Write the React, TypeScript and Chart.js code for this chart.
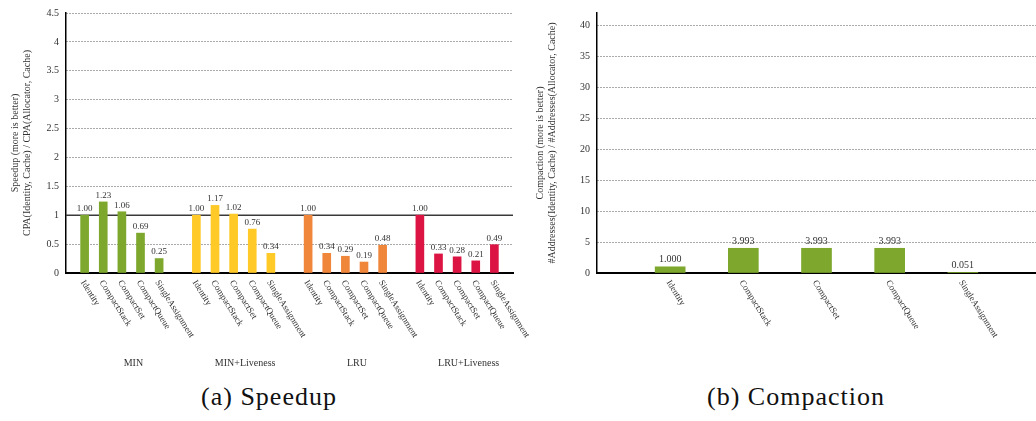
import React, { useEffect, useRef } from 'react';
import { Chart, registerables } from 'chart.js';

Chart.register(...registerables);

// ---------- data ----------
const allocators = ['Identity', 'CompactStack', 'CompactSet', 'CompactQueue', 'SingleAssignment'];
const policies = ['MIN', 'MIN+Liveness', 'LRU', 'LRU+Liveness'];
const minSpeedup = [1.0, 1.23, 1.06, 0.69, 0.25];
const minLivenessSpeedup = [1.0, 1.17, 1.02, 0.76, 0.34];
const lruSpeedup = [1.0, 0.34, 0.29, 0.19, 0.48];
const lruLivenessSpeedup = [1.0, 0.33, 0.28, 0.21, 0.49];
const compaction = [1.0, 3.993, 3.993, 3.993, 0.051];
const policyColors = ['#7DA72D', '#FFC928', '#EF863A', '#DC1443'];
const compactionColor = '#7DA72D';
const speedupAxis = { min: 0, max: 4.5, step: 0.5, reference: 1 };
const compactionAxis = { min: 0, max: 42, step: 5 };
const speedupTitle = ['Speedup (more is better)', 'CPA(Identity, Cache) / CPA(Allocator, Cache)'];
const compactionTitle = ['Compaction (more is better)', '#Addresses(Identity, Cache) / #Addresses(Allocator, Cache)'];
const captions = ['(a) Speedup', '(b) Compaction'];

const FONT = '"Liberation Serif", serif';
const TEXT = '#333';

Chart.defaults.font.family = FONT;
Chart.defaults.color = TEXT;

type LabelFn = (i: number) => string | null;

function makeTextPlugin(
  id: string,
  count: number,
  labelAt: LabelFn,
  digits: number,
  valueFont: number,
  groups: { text: string; at: number }[],
  refValue: number | null
) {
  return {
    id,
    beforeDatasetsDraw(chart: any) {
      if (refValue === null) return;
      const { ctx, chartArea, scales } = chart;
      const y = scales.y.getPixelForValue(refValue);
      ctx.save();
      ctx.strokeStyle = '#3a3a3a';
      ctx.lineWidth = 1.5;
      ctx.beginPath();
      ctx.moveTo(chartArea.left, y);
      ctx.lineTo(chartArea.right, y);
      ctx.stroke();
      ctx.restore();
    },
    afterDatasetsDraw(chart: any) {
      const { ctx } = chart;
      ctx.save();
      ctx.fillStyle = TEXT;
      ctx.font = `${valueFont}px ${FONT}`;
      ctx.textAlign = 'center';
      ctx.textBaseline = 'bottom';
      chart.data.datasets.forEach((ds: any, di: number) => {
        const meta = chart.getDatasetMeta(di);
        meta.data.forEach((el: any, k: number) => {
          const v = ds.data[k].y;
          ctx.fillText(v.toFixed(digits), el.x, el.y - 2);
        });
      });
      ctx.restore();
    },
    afterDraw(chart: any) {
      const { ctx, chartArea, scales } = chart;
      const x = scales.x;
      ctx.save();
      ctx.fillStyle = TEXT;
      ctx.font = `9px ${FONT}`;
      for (let i = 0; i < count; i++) {
        const t = labelAt(i);
        if (!t) continue;
        const px = x.getPixelForValue(i);
        ctx.save();
        ctx.translate(px - 2, chartArea.bottom + 8);
        ctx.rotate((58 * Math.PI) / 180);
        ctx.textAlign = 'left';
        ctx.textBaseline = 'middle';
        ctx.fillText(t, 0, 0);
        ctx.restore();
      }
      ctx.font = `10px ${FONT}`;
      ctx.textAlign = 'center';
      ctx.textBaseline = 'middle';
      groups.forEach((g) => {
        ctx.fillText(g.text, x.getPixelForValue(g.at), chartArea.bottom + 90);
      });
      ctx.restore();
    },
  };
}

function baseOptions(
  xMax: number,
  yAxis: { min: number; max: number; step: number },
  title: string[],
  titlePad: number,
  yWidth: number,
  padding: any
) {
  return {
    responsive: false,
    animation: false as const,
    layout: { padding },
    plugins: { legend: { display: false }, tooltip: { enabled: false }, title: { display: false } },
    scales: {
      x: {
        type: 'linear' as const,
        min: -1,
        max: xMax,
        offset: false,
        ticks: { display: false, stepSize: 1 },
        grid: { display: false, drawTicks: false, offset: false },
        border: { display: true, color: '#000', width: 2 },
        afterFit: (s: any) => {
          s.height = 102;
        },
      },
      y: {
        min: yAxis.min,
        max: yAxis.max,
        ticks: {
          stepSize: yAxis.step,
          padding: 7,
          font: { size: 10 },
          color: TEXT,
          callback: (v: any) => `${Math.round(Number(v) * 100) / 100}`,
        },
        afterBuildTicks: (s: any) => {
          s.ticks = s.ticks.filter((t: any) => Math.abs(t.value / yAxis.step - Math.round(t.value / yAxis.step)) < 1e-6);
        },
        grid: { color: '#555', lineWidth: 1, drawTicks: false },
        border: { display: true, color: '#000', width: 1.5, dash: [1, 2] },
        title: {
          display: true,
          text: title,
          color: TEXT,
          font: { size: 10, lineHeight: 1.2 },
          padding: { top: titlePad, bottom: 0 },
        },
        afterFit: (s: any) => {
          s.width = yWidth;
        },
      },
    },
  };
}

function SpeedupChart() {
  const ref = useRef<HTMLCanvasElement | null>(null);
  useEffect(() => {
    if (!ref.current) return;
    const slot = allocators.length + 1;
    const series = [minSpeedup, minLivenessSpeedup, lruSpeedup, lruLivenessSpeedup];
    const datasets = series.map((vals, g) => ({
      label: policies[g],
      data: vals.map((v, j) => ({ x: g * slot + j, y: v })),
      backgroundColor: policyColors[g],
      barThickness: 8,
      grouped: false,
    }));
    const count = policies.length * slot - 1;
    const groups = policies.map((p, g) => ({ text: p, at: g * slot + (allocators.length - 1) / 2 + 0.62 }));
    const plugin = makeTextPlugin(
      'speedupText',
      count,
      (i) => (i % slot < allocators.length ? allocators[i % slot] : null),
      2,
      9,
      groups,
      speedupAxis.reference
    );
    const chart = new Chart(ref.current, {
      type: 'bar',
      data: { datasets } as any,
      options: baseOptions(count, speedupAxis, speedupTitle, 9, 66, { left: 0, right: 24, top: 11, bottom: 0 }) as any,
      plugins: [plugin as any],
    });
    return () => chart.destroy();
  }, []);
  return <canvas ref={ref} width={537} height={375} style={{ position: 'absolute', left: 0, top: 0 }} />;
}

function CompactionChart() {
  const ref = useRef<HTMLCanvasElement | null>(null);
  useEffect(() => {
    if (!ref.current) return;
    const datasets = [
      {
        label: 'Compaction',
        data: compaction.map((v, j) => ({ x: j, y: v })),
        backgroundColor: compactionColor,
        barThickness: 30,
        grouped: false,
      },
    ];
    const plugin = makeTextPlugin('compactionText', allocators.length, (i) => allocators[i], 3, 10, [], null);
    const chart = new Chart(ref.current, {
      type: 'bar',
      data: { datasets } as any,
      options: baseOptions(allocators.length, compactionAxis, compactionTitle, 4, 67, { left: 0, right: 0, top: 12, bottom: 0 }) as any,
      plugins: [plugin as any],
    });
    return () => chart.destroy();
  }, []);
  return <canvas ref={ref} width={506} height={375} style={{ position: 'absolute', left: 530, top: 0 }} />;
}

export default function App() {
  const capStyle = (center: number): React.CSSProperties => ({
    position: 'absolute',
    left: center - 150,
    width: 300,
    top: 382,
    textAlign: 'center',
    fontFamily: FONT,
    fontSize: 26,
    lineHeight: '30px',
    letterSpacing: '1px',
    color: '#111',
  });
  return (
    <div style={{ position: 'absolute', left: 0, top: 0, width: 1036, height: 421, background: '#fff', overflow: 'hidden' }}>
      <CompactionChart />
      <SpeedupChart />
      <div style={capStyle(269)}>{captions[0]}</div>
      <div style={capStyle(796)}>{captions[1]}</div>
    </div>
  );
}
